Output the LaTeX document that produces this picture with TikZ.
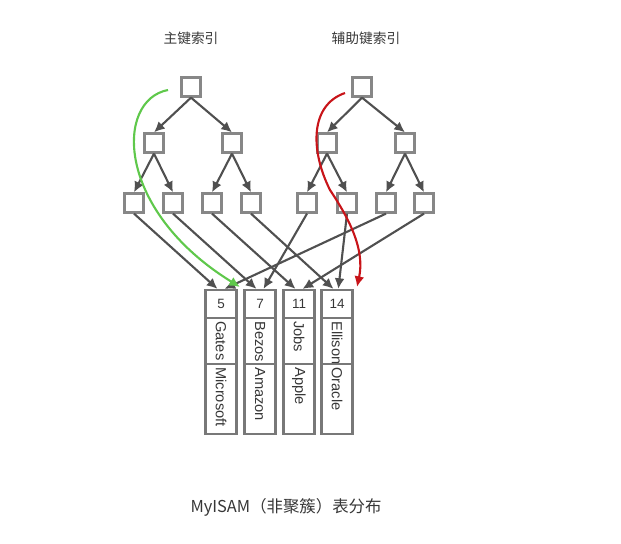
\documentclass[tikz,border=0pt]{standalone}
\usepackage{fontspec}
\setmainfont{Liberation Sans}
\newfontfamily\cjk{Noto Sans CJK SC}
\usetikzlibrary{arrows.meta}
\definecolor{boxgray}{RGB}{135,135,135}
\definecolor{colgray}{RGB}{120,120,120}
\definecolor{linegray}{RGB}{80,80,80}
\definecolor{textgray}{RGB}{55,55,55}
\definecolor{pathgreen}{RGB}{95,200,75}
\definecolor{pathred}{RGB}{200,20,25}

\begin{document}
\begin{tikzpicture}[x=0.3mm, y=-0.3mm,
  idx/.style={draw=boxgray, line width=2.2pt, fill=white, minimum size=5.6mm, inner sep=0pt},
  link/.style={draw=linegray, line width=1.8pt, -{Latex[length=3.2mm,width=3mm]}},
  numcell/.style={draw=colgray, line width=1.8pt, minimum width=9.3mm, minimum height=8.4mm, inner sep=0pt, text=textgray, font=\fontsize{11.5}{13}\selectfont},
  namecell/.style={draw=colgray, line width=1.8pt, rotate=-90, minimum height=9.3mm, inner xsep=1mm, inner ysep=0pt, align=left, text=textgray, font=\fontsize{12.5}{14}\selectfont},
  title/.style={text=textgray, font=\cjk\fontsize{11.7}{14}\selectfont}
]
  \useasboundingbox (0,0) rectangle (621,543);

  % Titles
  \node[title] (tp) at (191,38) {主键索引};
  \node[title] (ts) at (366,38) {辅助键索引};

  % Primary key index
  \node[idx] (p0) at (191,87) {};
  \node[idx] (p1) at (154,143) {};
  \node[idx] (p2) at (232,143) {};
  \node[idx] (p11) at (134,203) {};
  \node[idx] (p12) at (173,203) {};
  \node[idx] (p21) at (212,203) {};
  \node[idx] (p22) at (251,203) {};
  \draw[link] (p0.south) -- (p1.north);
  \draw[link] (p0.south) -- (p2.north);
  \draw[link] (p1.south) -- (p11.north);
  \draw[link] (p1.south) -- (p12.north);
  \draw[link] (p2.south) -- (p21.north);
  \draw[link] (p2.south) -- (p22.north);

  % Secondary key index
  \node[idx] (s0) at (362,87) {};
  \node[idx] (s1) at (327,143) {};
  \node[idx] (s2) at (405,143) {};
  \node[idx] (s11) at (307,203) {};
  \node[idx] (s12) at (347,203) {};
  \node[idx] (s21) at (386,203) {};
  \node[idx] (s22) at (424,203) {};
  \draw[link] (s0.south) -- (s1.north);
  \draw[link] (s0.south) -- (s2.north);
  \draw[link] (s1.south) -- (s11.north);
  \draw[link] (s1.south) -- (s12.north);
  \draw[link] (s2.south) -- (s21.north);
  \draw[link] (s2.south) -- (s22.north);

  % Table rows
  \node[numcell] (r5) at (221,304) {5};
  \node[namecell, minimum width=13.8mm, text width=11.8mm] (g5) at (221,341) {Gates};
  \node[namecell, minimum width=21mm, text width=19mm] (c5) at (221,399) {Microsoft};
  \node[numcell] (r7) at (260,304) {7};
  \node[namecell, minimum width=13.8mm, text width=11.8mm] (g7) at (260,341) {Bezos};
  \node[namecell, minimum width=21mm, text width=19mm] (c7) at (260,399) {Amazon};
  \node[numcell] (r11) at (299,304) {11};
  \node[namecell, minimum width=13.8mm, text width=11.8mm] (g11) at (299,341) {Jobs};
  \node[namecell, minimum width=21mm, text width=19mm] (c11) at (299,399) {Apple};
  \node[numcell] (r14) at (337,304) {14};
  \node[namecell, minimum width=13.8mm, text width=11.8mm] (g14) at (337,341) {Ellison};
  \node[namecell, minimum width=21mm, text width=19mm] (c14) at (337,399) {Oracle};

  % Leaves to rows
  \draw[link] (p11.south) -- (r5.103);
  \draw[link] (p12.south) -- (r7.103);
  \draw[link] (p21.south) -- (r11.103);
  \draw[link] (p22.south) -- (r14.103);
  \draw[link] (s11.south) -- (r7.77);
  \draw[link] (s12.south) -- (r14.85);
  \draw[link] (s21.south) -- (r5.77);
  \draw[link] (s22.south) -- (r11.77);

  % Search paths
  \coordinate (gs) at (168,90);
  \coordinate (ge) at (240,287);
  \draw[pathgreen, line width=1.8pt, -{Latex[length=3.2mm,width=3mm]}] (gs) .. controls (115,100) and (115,210) .. (ge);
  \coordinate (rs) at (345,93);
  \coordinate (rm) at (330,190);
  \coordinate (re) at (357,287);
  \draw[pathred, line width=1.8pt, -{Latex[length=3.2mm,width=3mm]}] (rs) .. controls (310,105) and (310,150) .. (rm) .. controls (350,220) and (365,250) .. (re);

  % Caption
  \node[text=textgray, font=\cjk\fontsize{14}{16}\selectfont] (cap) at (286,507) {MyISAM（非聚簇）表分布};
\end{tikzpicture}
\end{document}
